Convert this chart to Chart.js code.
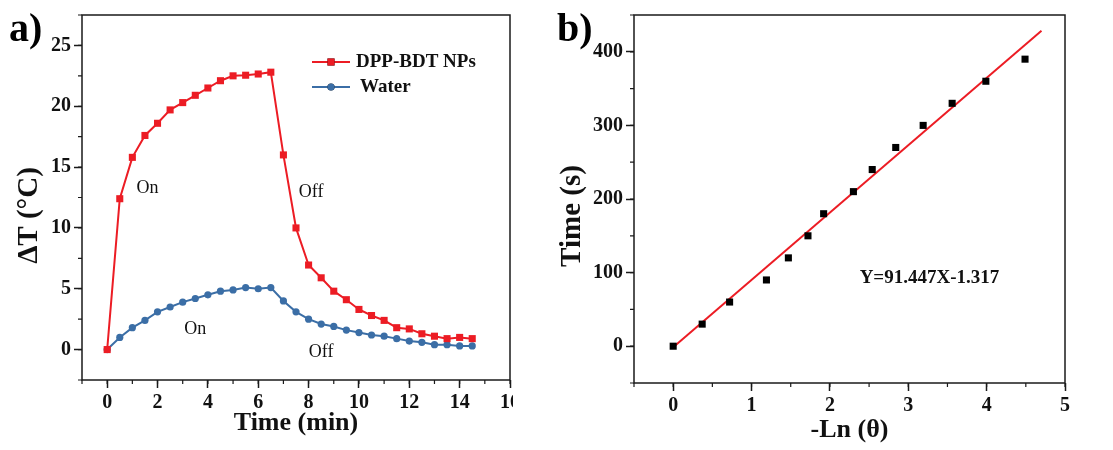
<!DOCTYPE html>
<html>
<head>
<meta charset="utf-8">
<script src="https://cdn.jsdelivr.net/npm/chart.js@4.4.1/dist/chart.umd.min.js"></script>
<style>
  html, body { margin: 0; padding: 0; background: #fff; }
  #wrap { position: relative; width: 1113px; height: 450px; overflow: hidden; }
  #boxA { position: absolute; left: 0; top: 0; width: 513px; height: 450px; overflow: hidden; }
  #boxB { position: absolute; left: 555px; top: 0; width: 558px; height: 450px; }
  .tag { position: absolute; font: bold 40px "Liberation Serif", "Times New Roman", serif; color: #000; line-height: 1; }
</style>
</head>
<body>
<div id="wrap">
  <div id="boxA"><canvas id="chartA" width="540" height="450"></canvas></div>
  <div id="boxB"><canvas id="chartB" width="558" height="450"></canvas></div>
  <div class="tag" style="left:9px;top:8px;">a)</div>
  <div class="tag" style="left:557px;top:8px;">b)</div>
</div>
<script>
// ---- panel a: heating / cooling curves ----
const timeMin = [0, 0.5, 1, 1.5, 2, 2.5, 3, 3.5, 4, 4.5, 5, 5.5, 6, 6.5, 7,
                 7.5, 8, 8.5, 9, 9.5, 10, 10.5, 11, 11.5, 12, 12.5, 13, 13.5, 14, 14.5];
const dppBdt = [0, 12.4, 15.8, 17.6, 18.6, 19.7, 20.3, 20.9, 21.5, 22.1, 22.5, 22.55, 22.65, 22.8, 16.0,
                10.0, 6.95, 5.9, 4.8, 4.1, 3.3, 2.8, 2.4, 1.8, 1.7, 1.3, 1.1, 0.9, 1.0, 0.9];
const water  = [0, 1.0, 1.8, 2.4, 3.1, 3.5, 3.9, 4.2, 4.5, 4.8, 4.9, 5.1, 5.0, 5.1, 4.0,
                3.1, 2.5, 2.1, 1.9, 1.6, 1.4, 1.2, 1.1, 0.9, 0.7, 0.6, 0.4, 0.4, 0.3, 0.3];
const ticksAX = [0, 2, 4, 6, 8, 10, 12, 14, 16];
const ticksAY = [0, 5, 10, 15, 20, 25];
const notesA = [
  { text: 'On',  x: 1.6, y: 13.3 },
  { text: 'Off', x: 8.1, y: 12.9 },
  { text: 'On',  x: 3.5, y: 1.7 },
  { text: 'Off', x: 8.5, y: -0.2 }
];

// ---- panel b: linear fit of cooling time ----
const negLnTheta = [0, 0.37, 0.72, 1.19, 1.47, 1.72, 1.92, 2.30, 2.54, 2.84, 3.19, 3.56, 3.99, 4.49];
const timeSec    = [0, 30, 60, 90, 120, 150, 180, 210, 240, 270, 300, 330, 360, 390];
const fitX = [0, 4.7];
const fitY = [-1.3, 428.5];
const ticksBX = [0, 1, 2, 3, 4, 5];
const ticksBY = [0, 100, 200, 300, 400];
const notesB = [{ text: 'Y=91.447X-1.317', x: 3.27, y: 93, bold: true }];

const SERIF = '"Liberation Serif", "Times New Roman", serif';
const RED = '#ec1c24';
const BLUE = '#3b6ea6';

// box round the plot + short minor ticks
const frame = {
  id: 'frame',
  afterDatasetsDraw(chart, args, opts) {
    const { ctx, chartArea: a, scales } = chart;
    ctx.save();
    ctx.strokeStyle = '#1a1a1a';
    ctx.lineWidth = 1.5;
    ctx.strokeRect(a.left, a.top, a.right - a.left, a.bottom - a.top);
    ctx.lineWidth = 1.2;
    ctx.beginPath();
    const sx = scales.x, sy = scales.y;
    for (let v = Math.ceil(sx.min / opts.minorX) * opts.minorX; v <= sx.max + 1e-9; v += opts.minorX) {
      const px = sx.getPixelForValue(v);
      ctx.moveTo(px, a.bottom);
      ctx.lineTo(px, a.bottom + 4);
    }
    for (let v = Math.ceil(sy.min / opts.minorY) * opts.minorY; v <= sy.max + 1e-9; v += opts.minorY) {
      const py = sy.getPixelForValue(v);
      ctx.moveTo(a.left, py);
      ctx.lineTo(a.left - 4, py);
    }
    ctx.stroke();
    ctx.restore();
  }
};

// rotated y title, sits a little below the middle of the plot like the original
const sideTitle = {
  id: 'sideTitle',
  afterDraw(chart, args, opts) {
    const { ctx, chartArea: a } = chart;
    ctx.save();
    ctx.translate(opts.x, (a.top + a.bottom) / 2 + opts.shift);
    ctx.rotate(-Math.PI / 2);
    ctx.font = 'bold 29px ' + SERIF;
    ctx.fillStyle = '#111';
    ctx.textAlign = 'center';
    ctx.textBaseline = 'middle';
    ctx.fillText(opts.text, 0, 0);
    ctx.restore();
  }
};

// free text placed in data coordinates
const notes = {
  id: 'notes',
  afterDatasetsDraw(chart, args, opts) {
    const { ctx, scales } = chart;
    ctx.save();
    ctx.fillStyle = '#111';
    ctx.textAlign = 'center';
    ctx.textBaseline = 'middle';
    opts.items.forEach(n => {
      ctx.font = (n.bold ? 'bold 19px ' : '18px ') + SERIF;
      ctx.fillText(n.text, scales.x.getPixelForValue(n.x), scales.y.getPixelForValue(n.y));
    });
    ctx.restore();
  }
};

// small legend inside plot a
const innerLegend = {
  id: 'innerLegend',
  afterDatasetsDraw(chart, args, opts) {
    if (!opts.display) return;
    const { ctx } = chart;
    ctx.save();
    ctx.font = 'bold 19px ' + SERIF;
    ctx.textBaseline = 'middle';
    chart.data.datasets.forEach((ds, i) => {
      const y = opts.y + i * 25;
      ctx.strokeStyle = ds.borderColor;
      ctx.lineWidth = 2;
      ctx.beginPath();
      ctx.moveTo(opts.x, y);
      ctx.lineTo(opts.x + 38, y);
      ctx.stroke();
      Chart.helpers.drawPoint(ctx, { pointStyle: ds.pointStyle, radius: ds.pointRadius, borderWidth: 0 }, opts.x + 19, y);
      ctx.fillStyle = ds.borderColor;
      ctx.fill();
      ctx.fillStyle = '#111';
      ctx.fillText(ds.label, opts.x + 44 + (i === 1 ? 4 : 0), y);
    });
    ctx.restore();
  }
};

function axis(min, max, tickList, title, size, titlePad) {
  return {
    type: 'linear', min: min, max: max,
    afterBuildTicks: s => { s.ticks = tickList.map(v => ({ value: v })); },
    afterFit: s => { if (s.isHorizontal()) s.height = size; else s.width = size; },
    ticks: { color: '#111', font: { family: SERIF, size: 20, weight: 'bold' }, padding: 3, maxRotation: 0, autoSkip: false },
    grid: { drawOnChartArea: false, tickLength: 8, tickColor: '#1a1a1a', tickWidth: 1.5 },
    border: { display: false },
    title: { display: !!title, text: title, color: '#111', font: { family: SERIF, size: 26, weight: 'bold' }, padding: titlePad }
  };
}

function renderPanelA() {
  const ctx = document.getElementById('chartA');
  new Chart(ctx, {
    type: 'line',
    data: {
      datasets: [
        { label: 'DPP-BDT NPs', data: timeMin.map((t, i) => ({ x: t, y: dppBdt[i] })),
          borderColor: RED, backgroundColor: RED, borderWidth: 2, pointStyle: 'rect', pointRadius: 5, pointBorderWidth: 0, tension: 0 },
        { label: 'Water', data: timeMin.map((t, i) => ({ x: t, y: water[i] })),
          borderColor: BLUE, backgroundColor: BLUE, borderWidth: 2, pointStyle: 'circle', pointRadius: 3.6, pointBorderWidth: 0, tension: 0 }
      ]
    },
    options: {
      responsive: false, animation: false,
      layout: { padding: { left: 0, right: 30, top: 15, bottom: 0 } },
      scales: {
        x: axis(-1, 16, ticksAX, 'Time (min)', 70, { top: 0, bottom: 11 }),
        y: axis(-2.5, 27.5, ticksAY, '', 82, 0)
      },
      plugins: {
        legend: { display: false }, tooltip: { enabled: false },
        frame: { minorX: 1, minorY: 2.5 },
        sideTitle: { text: 'ΔT (°C)', x: 30, shift: 18 },
        notes: { items: notesA },
        innerLegend: { display: true, x: 312, y: 62 }
      }
    },
    plugins: [frame, sideTitle, notes, innerLegend]
  });
}

function renderPanelB() {
  const ctx = document.getElementById('chartB');
  new Chart(ctx, {
    type: 'scatter',
    data: {
      datasets: [
        { label: 'data', data: negLnTheta.map((v, i) => ({ x: v, y: timeSec[i] })),
          backgroundColor: '#000', borderColor: '#000', pointStyle: 'rect', pointRadius: 5, pointBorderWidth: 0 },
        { label: 'fit', type: 'line', data: fitX.map((v, i) => ({ x: v, y: fitY[i] })),
          borderColor: RED, borderWidth: 2, pointRadius: 0, tension: 0 }
      ]
    },
    options: {
      responsive: false, animation: false,
      layout: { padding: { left: 0, right: 48, top: 12, bottom: 0 } },
      scales: {
        x: axis(-0.5, 5, ticksBX, '-Ln (θ)', 67, { top: 0, bottom: 4 }),
        y: axis(-50, 450, ticksBY, '', 79, 0)
      },
      plugins: {
        legend: { display: false }, tooltip: { enabled: false },
        frame: { minorX: 0.5, minorY: 50 },
        sideTitle: { text: 'Time (s)', x: 18, shift: 17 },
        notes: { items: notesB },
        innerLegend: { display: false }
      }
    },
    plugins: [frame, sideTitle, notes, innerLegend]
  });
}

renderPanelA();
renderPanelB();
</script>
</body>
</html>
